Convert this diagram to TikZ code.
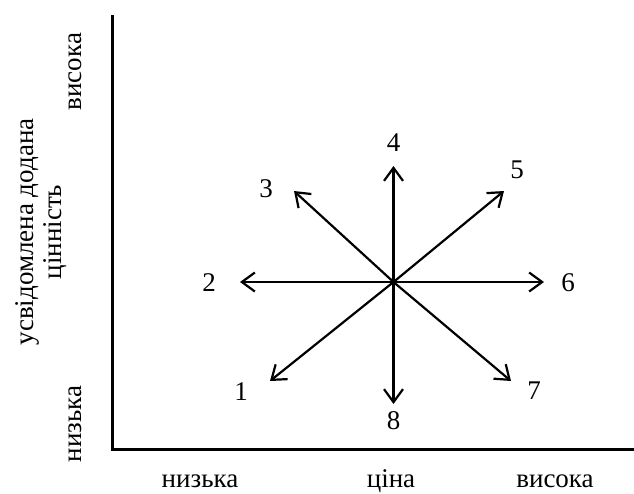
\documentclass[tikz,border=0pt]{standalone}
\usepackage{fontspec}
\setmainfont{Liberation Serif}
\usetikzlibrary{arrows.meta}
\begin{document}
\begin{tikzpicture}[x=1pt,y=-1pt,
  axis/.style={line width=3pt},
  vec/.style={line width=2.2pt,-{Straight Barb[length=13pt,width=19pt,line width=2.2pt]}},
  lbl/.style={font=\fontsize{27}{28}\selectfont, inner sep=0pt},
  num/.style={font=\fontsize{27}{28}\selectfont, inner sep=0pt}]
\useasboundingbox (0,0) rectangle (634,493);
\coordinate (top) at (112,15);
\coordinate (org) at (112,449);
\coordinate (right) at (634,449);
\draw[axis] (top) -- (org) -- (right);
\coordinate (c) at (393.5,282);
\coordinate (t1) at (270,381);
\coordinate (t2) at (240,282);
\coordinate (t3) at (294,191);
\coordinate (t4) at (393.5,166);
\coordinate (t5) at (504,191);
\coordinate (t6) at (544,282);
\coordinate (t7) at (511,381);
\coordinate (t8) at (393.5,404);
\foreach \i in {1,...,8} \draw[vec] (c) -- (t\i);
\node[num] (n1) at (241,392) {1};
\node[num] (n2) at (209,283) {2};
\node[num] (n3) at (266,189) {3};
\node[num] (n4) at (393.5,143) {4};
\node[num] (n5) at (517,170) {5};
\node[num] (n6) at (568,283) {6};
\node[num] (n7) at (534,391) {7};
\node[num] (n8) at (393.5,421) {8};
\node[lbl,anchor=base] (xl) at (200,487) {низька};
\node[lbl,anchor=base] (xm) at (391,487) {ціна};
\node[lbl,anchor=base] (xh) at (555,487) {висока};
\node[lbl,rotate=90] (yh) at (75,71.5) {висока};
\node[lbl,rotate=90] (yl) at (75,424) {низька};
\node[lbl,rotate=90,align=center] (yt) at (41,232) {усвідомлена додана\\цінність};
\end{tikzpicture}
\end{document}
